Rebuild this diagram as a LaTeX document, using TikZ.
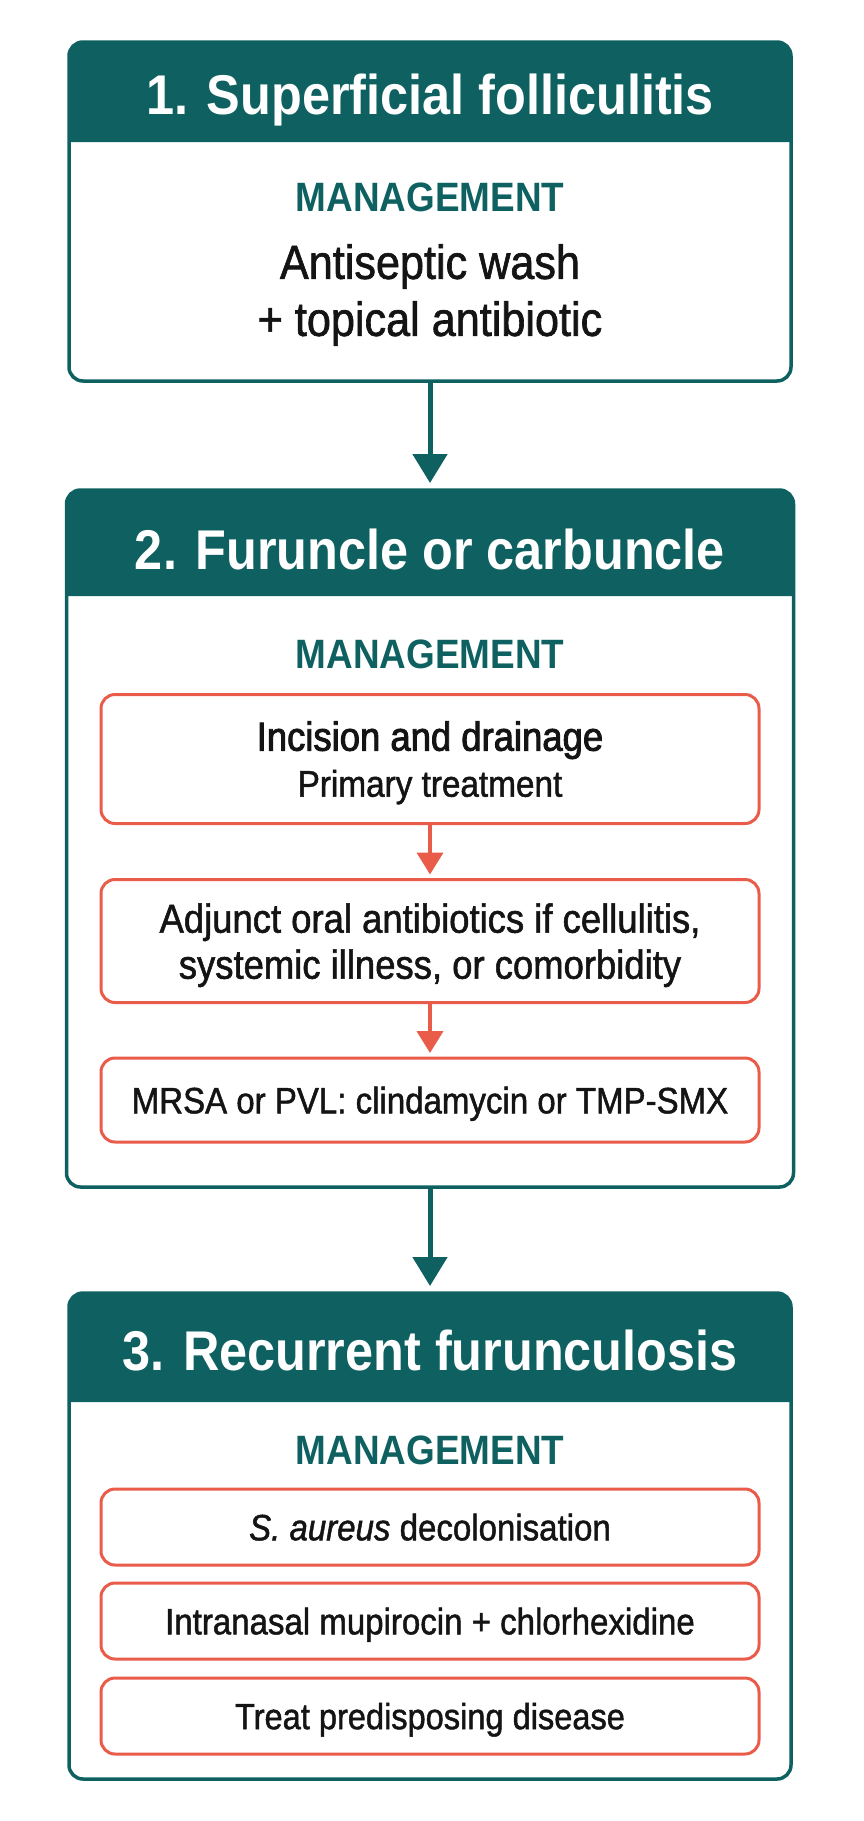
\documentclass[tikz,border=0pt]{standalone}
\usepackage{fontspec}
\setmainfont{Liberation Sans}[FakeStretch=0.9]
\newfontfamily\bodyfont{Liberation Sans}[FakeStretch=0.9, FakeBold=1.3]
\newfontfamily\leadfont{Liberation Sans}[FakeStretch=0.9, FakeBold=2.2]
\usetikzlibrary{arrows.meta}

\definecolor{deepteal}{RGB}{14,97,96}
\definecolor{coral}{RGB}{234,92,74}
\definecolor{inkblack}{RGB}{20,20,20}

\tikzset{
    stage/.style={draw=deepteal, line width=3.5pt, rounded corners=14pt, outer sep=0pt, inner sep=0pt},
    stagehead/.style={text=white, font=\bfseries\fontsize{56}{60}\selectfont, text height=40pt, text depth=0pt},
    mgmt/.style={text=deepteal, font=\bfseries\fontsize{41}{44}\selectfont, text height=29.4pt, text depth=0pt},
    bodytext/.style={text=inkblack, align=center, font=\bodyfont\fontsize{48}{57}\selectfont, text depth=0pt},
    stepbox/.style={draw=coral, line width=3pt, rounded corners=14pt, outer sep=0pt, minimum width=658pt,
        align=center, text=inkblack, font=\bodyfont\fontsize{36.7}{46}\selectfont, text depth=0pt},
    flow/.style={-{Triangle[width=34pt,length=29pt]}, draw=deepteal, fill=deepteal, line width=5pt, shorten >=7pt},
    subflow/.style={-{Triangle[width=26pt,length=22pt]}, draw=coral, fill=coral, line width=4pt, shorten >=5pt},
}

\begin{document}
\begin{tikzpicture}[x=1pt, y=-1pt]
    \useasboundingbox (0,0) rectangle (864,1821);
    \fill[white] (0,0) rectangle (864,1821);

    % stage 1
    \node[stage, minimum width=722pt, minimum height=339pt] (box1) at (430,211.5) {};
    \fill[deepteal] ([yshift=-100pt]box1.north west) [rounded corners=14pt] -- (box1.north west)
        -- (box1.north east) [sharp corners] -- ([yshift=-100pt]box1.north east) -- cycle;
    \node[stagehead] (head1) at (430,94) {1. Superficial folliculitis};
    \node[mgmt] (mgmt1) at (430,197) {MANAGEMENT};
    \node[bodytext] (care1) at (430,290) {Antiseptic wash\\+ topical antibiotic};

    % stage 2
    \node[stage, minimum width=727pt, minimum height=697pt] (box2) at (430,838.5) {};
    \fill[deepteal] ([yshift=-106pt]box2.north west) [rounded corners=14pt] -- (box2.north west)
        -- (box2.north east) [sharp corners] -- ([yshift=-106pt]box2.north east) -- cycle;
    \node[stagehead] (head2) at (430,549) {2. Furuncle or carbuncle};
    \node[mgmt] (mgmt2) at (430,654) {MANAGEMENT};
    \node[stepbox, minimum height=129pt, font=\leadfont\fontsize{40.5}{46}\selectfont] (drain) at (430,759)
        {Incision and drainage\\{\bodyfont\fontsize{37}{40}\selectfont Primary treatment}};
    \node[stepbox, minimum height=123pt, font=\bodyfont\fontsize{40.5}{46}\selectfont] (adjunct) at (430,941)
        {Adjunct oral antibiotics if cellulitis,\\systemic illness, or comorbidity};
    \node[stepbox, minimum height=84pt] (mrsa) at (430,1100) {MRSA or PVL: clindamycin or TMP-SMX};

    % stage 3
    \node[stage, minimum width=722pt, minimum height=486pt] (box3) at (430,1536) {};
    \fill[deepteal] ([yshift=-109pt]box3.north west) [rounded corners=14pt] -- (box3.north west)
        -- (box3.north east) [sharp corners] -- ([yshift=-109pt]box3.north east) -- cycle;
    \node[stagehead] (head3) at (430,1350) {3. Recurrent furunculosis};
    \node[mgmt] (mgmt3) at (430,1450) {MANAGEMENT};
    \node[stepbox, minimum height=76pt] (decol) at (430,1527) {\textit{S. aureus} decolonisation};
    \node[stepbox, minimum height=76pt] (mupi) at (430,1621) {Intranasal mupirocin + chlorhexidine};
    \node[stepbox, minimum height=76pt, font=\bodyfont\fontsize{36.2}{46}\selectfont] (treat) at (430,1716) {Treat predisposing disease};

    % connectors
    \draw[flow] (box1.south) -- (box2.north);
    \draw[subflow] (drain.south) -- (adjunct.north);
    \draw[subflow] (adjunct.south) -- (mrsa.north);
    \draw[flow] (box2.south) -- (box3.north);
\end{tikzpicture}
\end{document}
